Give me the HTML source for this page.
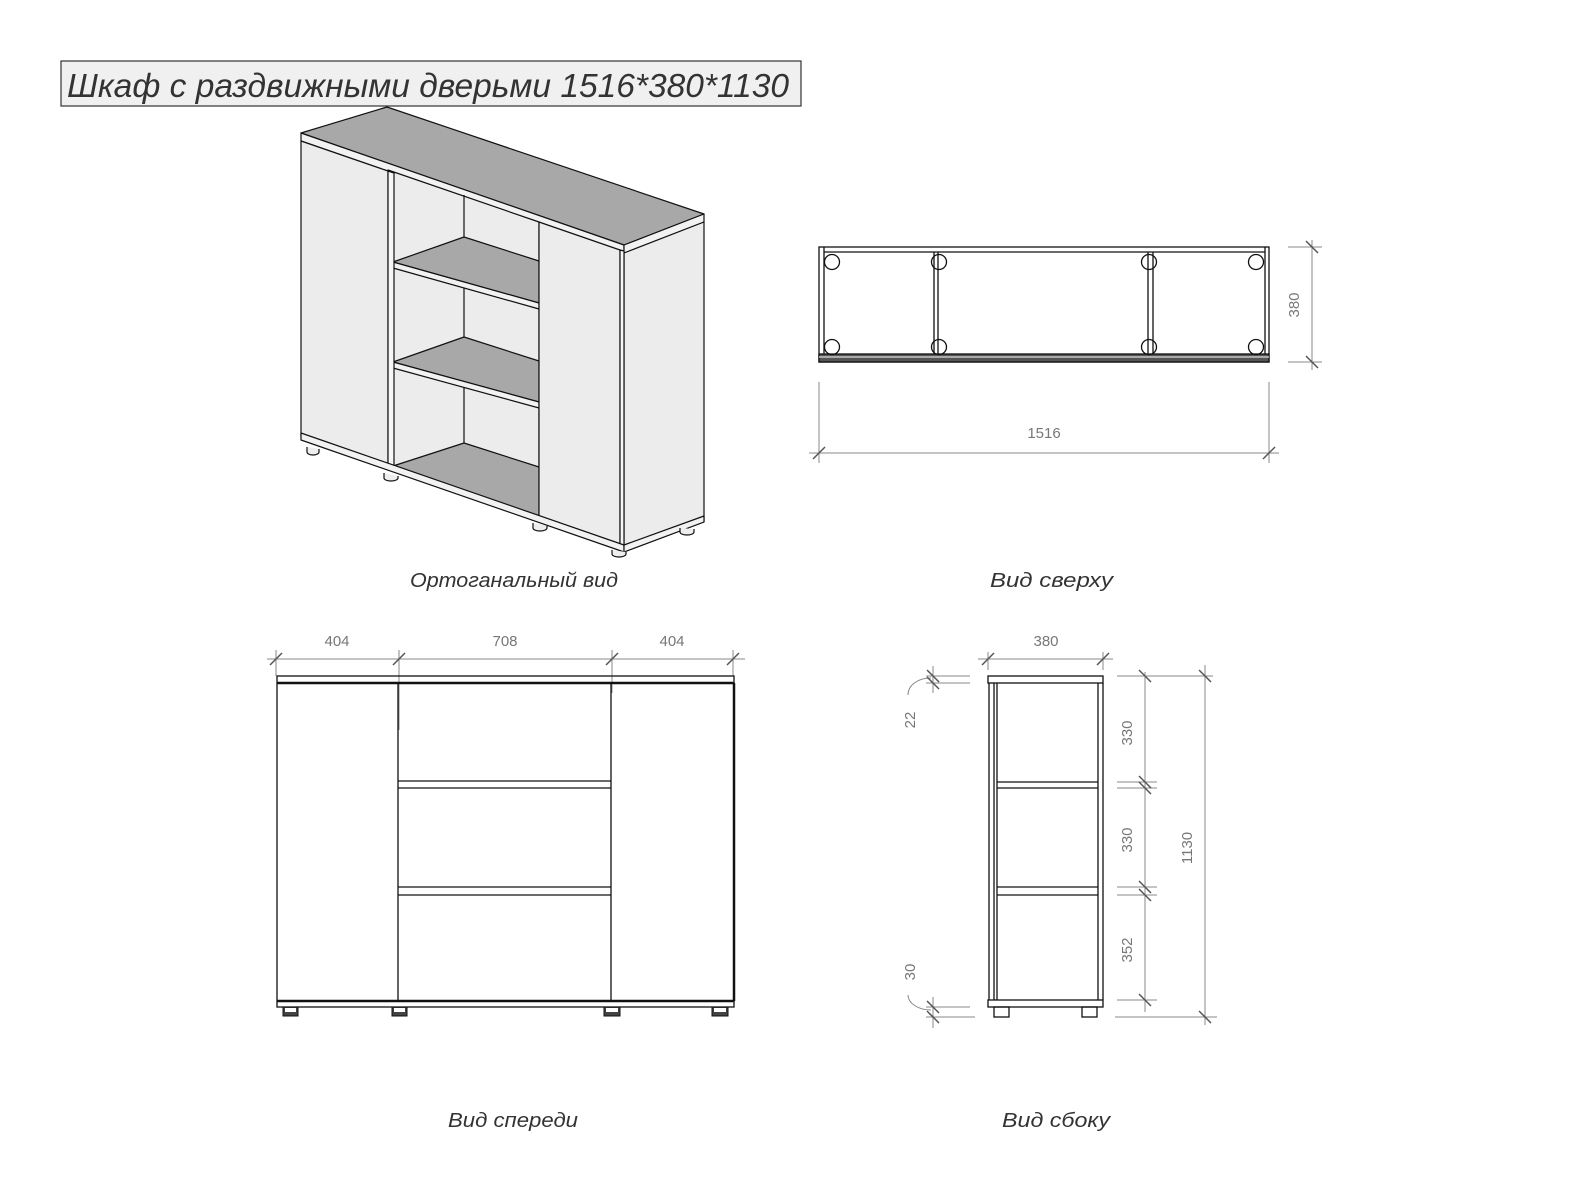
<!DOCTYPE html>
<html><head><meta charset="utf-8"><style>
html,body{margin:0;padding:0;background:#fff;}
svg{display:block;}
text{font-family:"Liberation Sans","DejaVu Sans",sans-serif;}
.cap{font-style:italic;font-size:20px;fill:#333;}
.dt{font-size:15px;fill:#777;}
.dim{stroke:#888;stroke-width:1;fill:none;}
.tk{stroke:#555;stroke-width:1.5;}
.ln{stroke:#111;stroke-width:1.3;fill:none;}
</style></head><body>
<svg width="1590" height="1192" viewBox="0 0 1590 1192" xmlns="http://www.w3.org/2000/svg">
<!-- Title -->
<rect x="61" y="61" width="740" height="45" fill="#f0f0f0" stroke="#333" stroke-width="1.2"/>
<text x="67" y="97" font-size="33" font-style="italic" fill="#333" textLength="722" lengthAdjust="spacingAndGlyphs">Шкаф с раздвижными дверьми 1516*380*1130</text>

<!-- Isometric -->
<g stroke="#111" stroke-width="1.2" stroke-linejoin="round">
<!-- top -->
<polygon points="301,133 387,107 704,214 624,245" fill="#a8a8a8"/>
<polygon points="301,133 624,245 624,253 301,141" fill="#f2f2f2"/>
<polygon points="624,245 704,214 704,222 624,253" fill="#f2f2f2"/>
<!-- right side panel -->
<polygon points="624,253 704,222 704,522 624,552" fill="#ececec"/>
<!-- opening back -->
<polygon points="388,170 539,222 539,517 388,467" fill="#ececec"/>
<line x1="464" y1="195" x2="464" y2="443"/>
<!-- shelves -->
<polygon points="393,262 464,237 539,261 539,303" fill="#a8a8a8"/>
<polygon points="393,262 539,303 539,309 393,268" fill="#f2f2f2"/>
<polygon points="393,362 464,337 539,361 539,402" fill="#a8a8a8"/>
<polygon points="393,362 539,402 539,408 393,368" fill="#f2f2f2"/>
<polygon points="393,466 464,443 539,467 539,517" fill="#a8a8a8"/>
<line x1="393" y1="467" x2="539" y2="517" stroke-width="3"/>
<!-- left door -->
<polygon points="301,141 388,171 388,467 301,437" fill="#ececec"/>
<polygon points="388,171 394,173 394,469 388,467" fill="#f6f6f6"/>
<!-- right door -->
<polygon points="539,222 620,250 620,547 539,519" fill="#ececec"/>
<polygon points="620,250 624,251 624,549 620,547" fill="#f6f6f6"/>
<!-- plinth -->
<polygon points="301,433 624,545 624,552 301,440" fill="#f2f2f2"/>
<polygon points="624,545 704,516 704,522 624,552" fill="#f2f2f2"/>
<!-- feet -->
<path d="M307,447 v5 a6,3 0 0 0 12,0 v-3" fill="#eee"/>
<path d="M384,473 v5 a7,3 0 0 0 14,0 v-2" fill="#eee"/>
<path d="M533,523 v5 a7,3 0 0 0 14,0 v-2" fill="#eee"/>
<path d="M612,550 v4 a7,3 0 0 0 14,0 v-2" fill="#eee"/>
<path d="M680,528 v4 a7,3 0 0 0 14,0 v-3" fill="#eee"/>
</g>
<text x="410" y="587" class="cap" textLength="208" lengthAdjust="spacingAndGlyphs">Ортоганальный вид</text>

<!-- Top view -->
<g class="ln">
<rect x="819" y="247" width="450" height="115"/>
<line x1="824" y1="252" x2="1265" y2="252"/>
<line x1="824" y1="247" x2="824" y2="354"/>
<line x1="1265" y1="247" x2="1265" y2="354"/>
<line x1="934" y1="252" x2="934" y2="362"/>
<line x1="938" y1="252" x2="938" y2="362"/>
<line x1="1148" y1="252" x2="1148" y2="362"/>
<line x1="1153" y1="252" x2="1153" y2="362"/>
<rect x="819" y="354" width="450" height="8" fill="#555"/>
<line x1="819" y1="357" x2="1269" y2="357" stroke="#ddd"/>
<circle cx="832" cy="262" r="7.5"/><circle cx="939" cy="262" r="7.5"/><circle cx="1149" cy="262" r="7.5"/><circle cx="1256" cy="262" r="7.5"/>
<circle cx="832" cy="347" r="7.5"/><circle cx="939" cy="347" r="7.5"/><circle cx="1149" cy="347" r="7.5"/><circle cx="1256" cy="347" r="7.5"/>
</g>
<g class="dim">
<line x1="1288" y1="247" x2="1322" y2="247"/><line x1="1288" y1="362" x2="1322" y2="362"/>
<line x1="1312" y1="240" x2="1312" y2="370"/>
<line x1="819" y1="382" x2="819" y2="463"/><line x1="1269" y1="382" x2="1269" y2="463"/>
<line x1="809" y1="453" x2="1279" y2="453"/>
</g>
<g class="tk">
<line x1="1306" y1="241" x2="1318" y2="253"/><line x1="1306" y1="356" x2="1318" y2="368"/>
<line x1="813" y1="459" x2="825" y2="447"/><line x1="1263" y1="459" x2="1275" y2="447"/>
</g>
<text class="dt" transform="translate(1299,305) rotate(-90)" text-anchor="middle">380</text>
<text class="dt" x="1044" y="438" text-anchor="middle">1516</text>
<text x="990" y="587" class="cap" textLength="123" lengthAdjust="spacingAndGlyphs">Вид сверху</text>

<!-- Front view -->
<g class="dim">
<line x1="267" y1="659" x2="745" y2="659"/>
<line x1="276" y1="650" x2="276" y2="676"/>
<line x1="399" y1="650" x2="399" y2="730"/>
<line x1="612" y1="650" x2="612" y2="693"/>
<line x1="733" y1="650" x2="733" y2="676"/>
</g>
<g class="tk">
<line x1="270" y1="665" x2="282" y2="653"/><line x1="393" y1="665" x2="405" y2="653"/>
<line x1="606" y1="665" x2="618" y2="653"/><line x1="727" y1="665" x2="739" y2="653"/>
</g>
<text class="dt" x="337" y="646" text-anchor="middle">404</text>
<text class="dt" x="505" y="646" text-anchor="middle">708</text>
<text class="dt" x="672" y="646" text-anchor="middle">404</text>
<g class="ln">
<rect x="277" y="676" width="457" height="331"/>
<line x1="277" y1="683" x2="734" y2="683" stroke-width="2.5"/>
<line x1="277" y1="1001" x2="734" y2="1001" stroke-width="2.5"/>
<line x1="734" y1="683" x2="734" y2="1001" stroke-width="2.5"/>
<line x1="398" y1="683" x2="398" y2="1001"/>
<line x1="611" y1="683" x2="611" y2="1001"/>
<line x1="398" y1="781" x2="611" y2="781"/><line x1="398" y1="788" x2="611" y2="788"/>
<line x1="398" y1="887" x2="611" y2="887"/><line x1="398" y1="895" x2="611" y2="895"/>
</g>
<g fill="#444" stroke="#111">
<rect x="283" y="1007" width="15" height="9"/><rect x="392" y="1007" width="15" height="9"/>
<rect x="604" y="1007" width="16" height="9"/><rect x="712" y="1007" width="16" height="9"/>
</g>
<g fill="#fff"><rect x="285" y="1008" width="11" height="4"/><rect x="394" y="1008" width="11" height="4"/><rect x="606" y="1008" width="12" height="4"/><rect x="714" y="1008" width="12" height="4"/></g>
<text x="448" y="1127" class="cap" textLength="130" lengthAdjust="spacingAndGlyphs">Вид спереди</text>

<!-- Side view -->
<g class="ln">
<rect x="988" y="676" width="115" height="7"/>
<rect x="988" y="1000" width="115" height="7"/>
<line x1="989" y1="683" x2="989" y2="1000"/>
<line x1="994" y1="683" x2="994" y2="1000"/>
<line x1="997" y1="683" x2="997" y2="1000"/>
<line x1="1098" y1="683" x2="1098" y2="1000"/>
<line x1="1103" y1="683" x2="1103" y2="1000"/>
<line x1="997" y1="782" x2="1098" y2="782"/><line x1="997" y1="788" x2="1098" y2="788"/>
<line x1="997" y1="887" x2="1098" y2="887"/><line x1="997" y1="895" x2="1098" y2="895"/>
<rect x="994" y="1007" width="15" height="10"/><rect x="1082" y="1007" width="15" height="10"/>
</g>
<g class="dim">
<line x1="978" y1="659" x2="1113" y2="659"/>
<line x1="988" y1="652" x2="988" y2="670"/><line x1="1103" y1="652" x2="1103" y2="670"/>
<line x1="926" y1="676" x2="970" y2="676"/><line x1="926" y1="683" x2="970" y2="683"/>
<line x1="933" y1="666" x2="933" y2="693"/>
<path d="M908,695 C908,685 918,678 931,678"/>
<line x1="926" y1="1007" x2="970" y2="1007"/><line x1="926" y1="1017" x2="975" y2="1017"/>
<line x1="933" y1="997" x2="933" y2="1028"/>
<path d="M908,995 C908,1003 918,1010 931,1010"/>
<line x1="1117" y1="676" x2="1157" y2="676"/>
<line x1="1117" y1="782" x2="1157" y2="782"/><line x1="1117" y1="788" x2="1157" y2="788"/>
<line x1="1117" y1="887" x2="1157" y2="887"/><line x1="1117" y1="895" x2="1157" y2="895"/>
<line x1="1117" y1="1000" x2="1157" y2="1000"/>
<line x1="1145" y1="672" x2="1145" y2="1012"/>
<line x1="1122" y1="676" x2="1213" y2="676"/><line x1="1115" y1="1017" x2="1217" y2="1017"/>
<line x1="1205" y1="665" x2="1205" y2="1025"/>
</g>
<g class="tk">
<line x1="982" y1="665" x2="994" y2="653"/><line x1="1097" y1="665" x2="1109" y2="653"/>
<line x1="927" y1="670" x2="939" y2="682"/><line x1="927" y1="677" x2="939" y2="689"/>
<line x1="927" y1="1001" x2="939" y2="1013"/><line x1="927" y1="1011" x2="939" y2="1023"/>
<line x1="1139" y1="670" x2="1151" y2="682"/>
<line x1="1139" y1="776" x2="1151" y2="788"/><line x1="1139" y1="782" x2="1151" y2="794"/>
<line x1="1139" y1="881" x2="1151" y2="893"/><line x1="1139" y1="889" x2="1151" y2="901"/>
<line x1="1139" y1="994" x2="1151" y2="1006"/>
<line x1="1199" y1="670" x2="1211" y2="682"/><line x1="1199" y1="1011" x2="1211" y2="1023"/>
</g>
<text class="dt" x="1046" y="646" text-anchor="middle">380</text>
<text class="dt" transform="translate(915,720) rotate(-90)" text-anchor="middle">22</text>
<text class="dt" transform="translate(915,972) rotate(-90)" text-anchor="middle">30</text>
<text class="dt" transform="translate(1132,733) rotate(-90)" text-anchor="middle">330</text>
<text class="dt" transform="translate(1132,840) rotate(-90)" text-anchor="middle">330</text>
<text class="dt" transform="translate(1132,950) rotate(-90)" text-anchor="middle">352</text>
<text class="dt" transform="translate(1192,848) rotate(-90)" text-anchor="middle">1130</text>
<text x="1002" y="1127" class="cap" textLength="108" lengthAdjust="spacingAndGlyphs">Вид сбоку</text>
</svg>
</body></html>
